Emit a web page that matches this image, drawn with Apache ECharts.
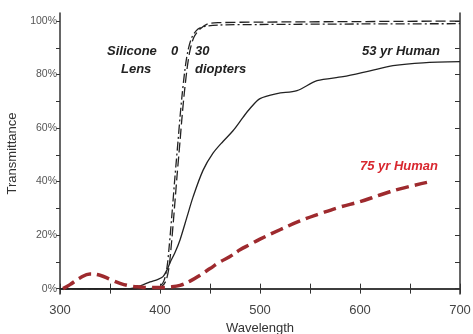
<!DOCTYPE html>
<html>
<head>
<meta charset="utf-8">
<script src="https://cdn.jsdelivr.net/npm/echarts@6/dist/echarts.min.js"></script>
<style>
  html, body { margin: 0; padding: 0; background: #fff; }
  #chart { width: 473px; height: 334px; }
</style>
</head>
<body>
<div id="chart"></div>
<script>
// wavelength (nm) / transmittance (%)
var wl75 = [303, 310, 320, 330, 340, 350, 360, 370, 380, 390, 400, 410, 420, 430, 440, 450, 460, 470, 480, 490, 500, 520, 540, 560, 580, 600, 620, 640, 667];
var t75 = [0, 1.5, 4, 5.5, 5, 3.5, 2, 1, 0.6, 0.4, 0.4, 0.6, 1.2, 2.8, 5, 7.5, 10, 12, 14.5, 16.5, 18.5, 22, 25.3, 28, 30.5, 32.5, 35, 37.3, 39.7];

var wl53 = [300, 370, 380, 390, 398, 403, 407, 410, 415, 420, 427, 433, 443, 453, 463, 473, 483, 490, 500, 517, 537, 557, 583, 610, 633, 663, 700];
var t53 = [0, 0, 1, 2.5, 3.5, 4.5, 7, 9.7, 13.5, 18.2, 26.8, 34.2, 44.2, 50.6, 55, 59, 64, 67.3, 71, 72.9, 74, 77.7, 79.2, 81.4, 83.3, 84.4, 84.8];

var wlSil0 = [300, 390, 400, 404, 407, 409, 412, 415, 418, 420, 422, 425, 428, 432, 438, 445, 460, 500, 600, 700];
var tSil0 = [0, 0, 1, 3, 8, 15, 28, 42, 55, 64, 72, 82, 89, 94, 97, 98, 98.5, 98.7, 98.9, 99];

var wlSil30 = [300, 392, 402, 406, 409, 411, 414, 417, 420, 422, 424, 427, 430, 434, 440, 448, 460, 500, 600, 700];
var tSil30 = [0, 0, 1, 3, 8, 15, 28, 42, 55, 64, 72, 82, 89, 94, 97, 99, 99.4, 99.6, 99.8, 100];

var xLabels = [300, 400, 500, 600, 700];
var yLabels = [0, 20, 40, 60, 80, 100];
var yTicks = [0, 10, 20, 30, 40, 50, 60, 70, 80, 90, 100];

function pairs(xs, ys) {
    var out = [];
    for (var i = 0; i < xs.length; i++) out.push([xs[i], ys[i]]);
    return out;
}

var font = 'Liberation Sans, Arial, sans-serif';
var axisLine = { show: true, lineStyle: { color: '#333', width: 1.5 } };

var chart = echarts.init(document.getElementById('chart'));

var option = {
    animation: false,
    grid: { left: 60, right: 13, top: 13, bottom: 40, containLabel: false, outerBoundsMode: 'none' },
    xAxis: [{
        type: 'value',
        position: 'bottom',
        min: 300, max: 700, interval: 50,
        name: 'Wavelength',
        nameLocation: 'middle',
        nameGap: 27,
        nameTextStyle: { fontFamily: font, fontSize: 13, color: '#333' },
        axisLine: axisLine,
        axisTick: { inside: true, length: 5, lineStyle: { color: '#333' } },
        axisLabel: { customValues: xLabels, fontFamily: font, fontSize: 13, color: '#444', margin: 10 },
        splitLine: { show: false }
    }, {
        type: 'value',
        position: 'top',
        min: 300, max: 700, interval: 50,
        axisLine: axisLine,
        axisTick: { inside: true, length: 5, lineStyle: { color: '#333' } },
        axisLabel: { show: false },
        splitLine: { show: false }
    }],
    yAxis: [{
        type: 'value',
        position: 'left',
        min: -2, max: 103,
        name: 'Transmittance',
        nameLocation: 'middle',
        nameGap: 40,
        nameTextStyle: { fontFamily: font, fontSize: 13, color: '#333' },
        axisLine: axisLine,
        axisTick: { inside: false, length: 4, customValues: yTicks, lineStyle: { color: '#333' } },
        axisLabel: { customValues: yLabels, formatter: '{value}%', fontFamily: font, fontSize: 10.5, color: '#555', margin: 3 },
        splitLine: { show: false }
    }, {
        type: 'value',
        position: 'right',
        min: -2, max: 103,
        axisLine: axisLine,
        axisTick: { inside: true, length: 5, customValues: yTicks, lineStyle: { color: '#333' } },
        axisLabel: { show: false },
        splitLine: { show: false }
    }],
    series: [{
        name: 'Silicone 0',
        type: 'line',
        data: pairs(wlSil0, tSil0),
        symbol: 'none',
        smooth: 0.3,
        lineStyle: { color: '#222', width: 1.3, type: [9, 3, 2, 3] }
    }, {
        name: '30 diopters',
        type: 'line',
        data: pairs(wlSil30, tSil30),
        symbol: 'none',
        smooth: 0.3,
        lineStyle: { color: '#222', width: 1.3, type: [10, 4] }
    }, {
        name: '53 yr Human',
        type: 'line',
        data: pairs(wl53, t53),
        symbol: 'none',
        smooth: 0.3,
        lineStyle: { color: '#222', width: 1.3 }
    }, {
        name: '75 yr Human',
        type: 'line',
        data: pairs(wl75, t75),
        symbol: 'none',
        smooth: 0.4,
        lineStyle: { color: '#9e2a2e', width: 3.5, type: [13, 6] }
    }],
    graphic: [
        { type: 'text', left: 107, top: 45, style: { text: 'Silicone', font: 'italic bold 13px ' + font, fill: '#222' } },
        { type: 'text', left: 121, top: 63, style: { text: 'Lens', font: 'italic bold 13px ' + font, fill: '#222' } },
        { type: 'text', left: 171, top: 45, style: { text: '0', font: 'italic bold 13px ' + font, fill: '#222' } },
        { type: 'text', left: 195, top: 45, style: { text: '30', font: 'italic bold 13px ' + font, fill: '#222' } },
        { type: 'text', left: 195, top: 63, style: { text: 'diopters', font: 'italic bold 13px ' + font, fill: '#222' } },
        { type: 'text', left: 362, top: 45, style: { text: '53 yr Human', font: 'italic bold 13px ' + font, fill: '#222' } },
        { type: 'text', left: 360, top: 160, style: { text: '75 yr Human', font: 'italic bold 13px ' + font, fill: '#d8262e' } }
    ]
};

chart.setOption(option);
</script>
</body>
</html>
